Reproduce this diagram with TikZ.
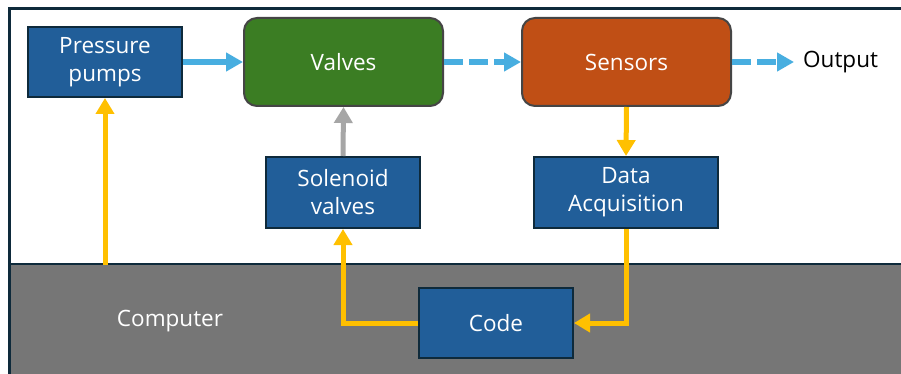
\documentclass[tikz,border=0pt]{standalone}
\usepackage{fontspec}
\setmainfont{Open Sans}
\usetikzlibrary{arrows.meta}
\definecolor{boxblue}{HTML}{215E99}
\definecolor{darkline}{HTML}{0E2A3B}
\definecolor{vgreen}{HTML}{3B7D23}
\definecolor{sorange}{HTML}{C04F15}
\definecolor{lblue}{HTML}{48AEE0}
\definecolor{ayellow}{HTML}{FFC000}
\definecolor{agray}{HTML}{A6A6A6}
\definecolor{compgray}{HTML}{767676}
\definecolor{rborder}{HTML}{454545}
\tikzset{
  txt/.style={font=\fontsize{22.5}{28}\selectfont},
  bluebox/.style={txt, draw=darkline, line width=2pt, fill=boxblue, text=white, align=center, inner sep=0pt},
  roundbox/.style={txt, draw=rborder, line width=2pt, rounded corners=13pt, text=white, align=center, inner sep=0pt},
  bluearr/.style={draw=lblue, line width=6pt, -{Triangle[width=18pt,length=17pt]}},
  yelarr/.style={draw=ayellow, line width=5pt, -{Triangle[width=18pt,length=16pt]}},
  grayarr/.style={draw=agray, line width=5pt, -{Triangle[width=18pt,length=16pt]}},
  dashpat/.style={dash pattern=on 19pt off 6pt}
}
\begin{document}
\begin{tikzpicture}[x=1pt,y=-1pt]
\useasboundingbox (0,0) rectangle (901,374);
\fill[white] (0,0) rectangle (901,374);
% computer region
\fill[compgray] (9,264) rectangle (901,374);
\draw[darkline, line width=2pt] (9,264) -- (901,264);
% frame
\draw[darkline, line width=3pt] (9,374) -- (9,9) -- (901,9);

\node[bluebox, minimum width=154pt, minimum height=70pt] (pp) at (105,62) {Pressure\\pumps};
\node[roundbox, fill=vgreen, minimum width=199pt, minimum height=88pt] (valves) at (343.5,62) {Valves};
\node[roundbox, fill=sorange, minimum width=209pt, minimum height=88pt] (sens) at (626.5,62) {Sensors};
\node[bluebox, minimum width=154pt, minimum height=71pt] (sol) at (343,192.5) {Solenoid\\valves};
\node[bluebox, minimum width=184pt, minimum height=71pt] (daq) at (626,192.5) {Data\\Acquisition};
\node[bluebox, minimum width=154pt, minimum height=70pt] (code) at (496,323) {Code};
\node[txt, anchor=west, inner sep=0pt] (out) at (803,62) {Output};
\node[txt, text=white] (comp) at (170,321) {Computer};
\coordinate (cp) at (105,265);
\coordinate (outin) at (794,62);

\draw[bluearr] (pp.east) -- (valves.west);
\draw[bluearr, dashpat] (valves.east) -- (sens.west);
\draw[bluearr, dashpat] (sens.east) -- (outin);
\draw[grayarr] (sol.north) -- (valves.south);
\draw[yelarr] (cp) -- (pp.south);
\draw[yelarr] (sens.south) -- (daq.north);
\draw[yelarr] (daq.south) |- (code.east);
\draw[yelarr] (code.west) -| (sol.south);
\end{tikzpicture}
\end{document}
